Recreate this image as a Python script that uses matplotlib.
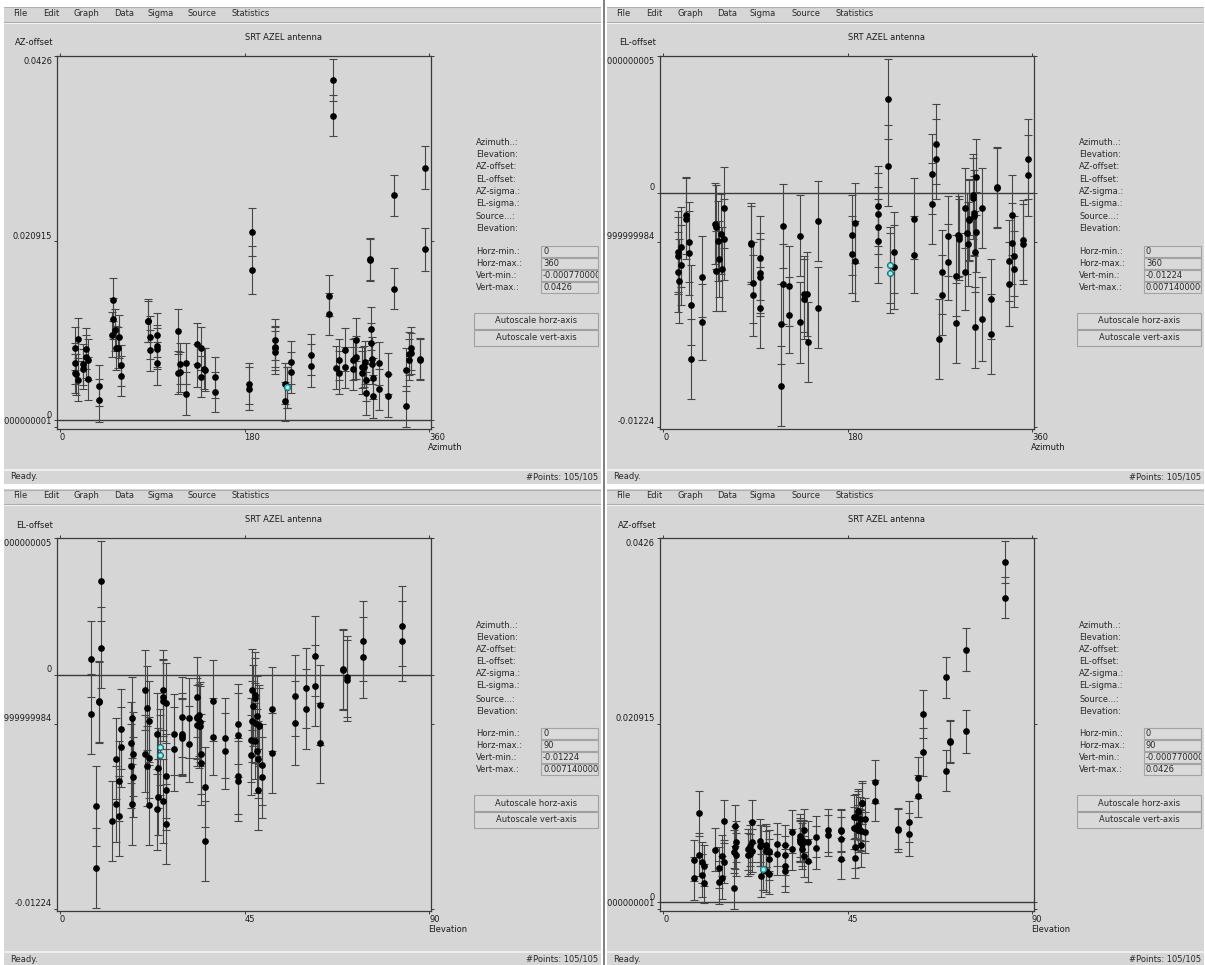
import matplotlib
matplotlib.use("Agg")
import matplotlib.pyplot as plt
import matplotlib.transforms as mtransforms
from matplotlib.patches import Rectangle
from matplotlib.lines import Line2D
import numpy as np

plt.rcParams['font.family'] = ['DejaVu Sans']
plt.rcParams['font.size'] = 6

# one entry per pointing scan (two scans per position most of the time)
azimuth = [
    14.8, 14.8, 15.1, 15.8, 17.2, 17.8, 22.9, 22.9, 25.4, 25.4, 27.3, 27.8,
    38.0, 38.0,
    50.3, 51.3, 51.3, 53.6, 54.4, 57.0, 57.5, 59.4, 59.4,
    85.8, 86.2, 88.2, 88.2, 94.8, 94.8, 94.8, 94.3,
    115.5, 115.5, 117.3, 117.3, 122.7, 122.7,
    133.2, 133.2, 137.8, 137.8, 140.8, 141.2, 151.5, 151.5,
    184.2, 184.2, 187.5, 187.5,
    209.5, 209.5, 209.8, 209.8, 219.2, 219.2, 221.0, 221.0, 225.6, 225.6, 245.2, 245.2,
    262.0, 262.0, 266.7, 266.7,
    268.8, 272.4, 272.4, 277.8, 277.8, 285.8, 285.8, 287.6, 289.0, 288.5,
    294.4, 294.4, 296.6, 297.6, 298.4, 298.4, 302.8, 302.8, 303.3, 303.6,
    304.6, 304.6, 305.4, 305.4, 311.0, 311.0, 319.9, 319.9, 325.4, 325.4,
    337.7, 337.7, 340.0, 340.0, 342.3, 342.3, 351.4, 351.4, 355.8, 355.8,
]
elevation = [
    29.8, 29.8, 34.3, 34.3, 14.9, 14.9, 25.0, 25.0, 43.5, 43.5, 35.4, 35.4,
    13.6, 13.6,
    47.0, 51.8, 51.8, 47.6, 47.6, 48.0, 48.0, 46.8, 46.8,
    48.6, 48.6, 49.2, 49.2, 46.5, 46.5, 48.2, 48.2,
    8.7, 8.7, 21.2, 21.2, 24.0, 24.0,
    17.6, 17.6, 43.3, 43.3, 25.8, 25.8, 25.9, 25.9,
    29.8, 29.8, 63.3, 63.3,
    57.3, 57.3, 59.9, 59.9, 9.9, 9.9, 24.5, 24.5, 27.9, 27.9, 37.4, 37.4,
    62.2, 62.2, 83.5, 83.5,
    12.6, 17.8, 17.8, 31.4, 31.4, 21.6, 21.6, 33.3, 33.3, 21.8,
    20.8, 20.8, 34.0, 34.0, 9.6, 9.6, 70.0, 70.0, 47.5, 47.5,
    23.6, 23.6, 7.5, 7.5, 25.0, 25.0, 14.4, 14.4, 69.0, 69.0,
    17.3, 17.3, 33.5, 33.5, 40.2, 40.2, 34.2, 34.2, 74.0, 74.0,
]
az_offset = [
    0.00669, 0.00552, 0.00844, 0.00537, 0.00949, 0.00475, 0.00654, 0.00603, 0.00836, 0.00747, 0.00712, 0.00486,
    0.00408, 0.00233,
    0.01004, 0.01412, 0.01186, 0.01058, 0.00844, 0.00848, 0.00980, 0.00642, 0.00521,
    0.01167, 0.01159, 0.00973, 0.00820, 0.01000, 0.00871, 0.00836, 0.00669,
    0.01040, 0.00560, 0.00661, 0.00564, 0.00669, 0.00311,
    0.00895, 0.00642, 0.00844, 0.00513, 0.00603, 0.00591, 0.00506, 0.00331,
    0.00428, 0.00370, 0.02198, 0.01762,
    0.00844, 0.00860, 0.00945, 0.00794, 0.00428, 0.00222, 0.00389, 0.00389, 0.00681, 0.00564, 0.00766, 0.00638,
    0.01459, 0.01245, 0.03980, 0.03559,
    0.00615, 0.00712, 0.00560, 0.00825, 0.00622, 0.00712, 0.00603, 0.00727, 0.00739, 0.00945,
    0.00622, 0.00560, 0.00630, 0.00681, 0.00467, 0.00319, 0.01887, 0.01875, 0.01070, 0.00902,
    0.00720, 0.00661, 0.00494, 0.00280, 0.00669, 0.00366, 0.00545, 0.00288, 0.02634, 0.01540,
    0.00591, 0.00167, 0.00708, 0.00778, 0.00786, 0.00844, 0.00720, 0.00712, 0.02953, 0.02000,
]
el_offset = [
    -0.00308, -0.00329, -0.00413, -0.00461, -0.00283, -0.00378, -0.00118, -0.00135, -0.00257, -0.00317, -0.00586, -0.00868,
    -0.00438, -0.00676,
    -0.00161, -0.00179, -0.00409, -0.00251, -0.00347, -0.00217, -0.00400, -0.00078, -0.00244,
    -0.00265, -0.00269, -0.00470, -0.00537, -0.00343, -0.00421, -0.00442, -0.00600,
    -0.00686, -0.01010, -0.00173, -0.00477, -0.00487, -0.00638,
    -0.00224, -0.00678, -0.00530, -0.00556, -0.00530, -0.00780, -0.00149, -0.00600,
    -0.00222, -0.00322, -0.00158, -0.00357,
    -0.00109, -0.00251, -0.00071, -0.00179, 0.00489, 0.00142, -0.00378, -0.00421, -0.00312, -0.00387, -0.00135, -0.00324,
    0.00099, -0.00057, 0.00255, 0.00177,
    -0.00764, -0.00413, -0.00534, -0.00227, -0.00362, -0.00433, -0.00681, -0.00222, -0.00225, -0.00244,
    -0.00080, -0.00413, -0.00213, -0.00269, -0.00140, -0.00145, -0.00010, -0.00030, -0.00104, -0.00121,
    -0.00308, -0.00704, 0.00081, -0.00204, -0.00080, -0.00660, -0.00556, -0.00737, 0.00030, 0.00023,
    -0.00355, -0.00478, -0.00118, -0.00265, -0.00331, -0.00399, -0.00248, -0.00269, 0.00177, 0.00090,
]
az_sigma = [
    0.0024, 0.0023, 0.0025, 0.0024, 0.0025, 0.0025, 0.0024, 0.0023, 0.0024, 0.0025, 0.0024, 0.0025,
    0.0024, 0.0025,
    0.0026, 0.0025, 0.0024, 0.0025, 0.0026, 0.0024, 0.0025, 0.0024, 0.0023,
    0.0025, 0.0024, 0.0025, 0.0024, 0.0026, 0.0025, 0.0024, 0.0025,
    0.0026, 0.0025, 0.0024, 0.0023, 0.0024, 0.0025,
    0.0024, 0.0025, 0.0025, 0.0024, 0.0024, 0.0025, 0.0024, 0.0023,
    0.0024, 0.0025, 0.0028, 0.0028,
    0.0025, 0.0024, 0.0024, 0.0025, 0.0024, 0.0023, 0.0024, 0.0024, 0.0025, 0.0024, 0.0024, 0.0025,
    0.0024, 0.0025, 0.0025, 0.0024,
    0.0025, 0.0024, 0.0025, 0.0025, 0.0024, 0.0024, 0.0025, 0.0024, 0.0025, 0.0025,
    0.0024, 0.0025, 0.0024, 0.0025, 0.0024, 0.0025, 0.0024, 0.0025, 0.0025, 0.0024,
    0.0025, 0.0024, 0.0024, 0.0025, 0.0025, 0.0024, 0.0024, 0.0025, 0.0024, 0.0024,
    0.0025, 0.0024, 0.0024, 0.0025, 0.0024, 0.0025, 0.0024, 0.0024, 0.0025, 0.0025,
]
el_sigma = [
    0.0021, 0.0020, 0.0021, 0.0022, 0.0021, 0.0021, 0.0020, 0.0021, 0.0021, 0.0022, 0.0021, 0.0021,
    0.0021, 0.0020,
    0.0021, 0.0022, 0.0021, 0.0021, 0.0020, 0.0021, 0.0022, 0.0021, 0.0021,
    0.0021, 0.0020, 0.0021, 0.0021, 0.0022, 0.0021, 0.0020, 0.0021,
    0.0021, 0.0021, 0.0022, 0.0021, 0.0021, 0.0020,
    0.0021, 0.0021, 0.0020, 0.0021, 0.0022, 0.0021, 0.0021, 0.0021,
    0.0021, 0.0020, 0.0021, 0.0021,
    0.0021, 0.0022, 0.0021, 0.0021, 0.0021, 0.0021, 0.0020, 0.0021, 0.0021, 0.0022, 0.0021, 0.0020,
    0.0021, 0.0021, 0.0021, 0.0021,
    0.0021, 0.0022, 0.0021, 0.0021, 0.0020, 0.0021, 0.0021, 0.0022, 0.0021, 0.0021,
    0.0021, 0.0020, 0.0021, 0.0022, 0.0021, 0.0021, 0.0021, 0.0021, 0.0022, 0.0021,
    0.0021, 0.0021, 0.0020, 0.0021, 0.0021, 0.0022, 0.0021, 0.0021, 0.0021, 0.0021,
    0.0021, 0.0022, 0.0021, 0.0021, 0.0021, 0.0020, 0.0021, 0.0021, 0.0021, 0.0021,
]
# scans picked in the viewer (drawn in cyan)
picked = [55, 56]

# axis ranges and the way the viewer prints them
az_off_range = (-0.00077, 0.0426)
el_off_range = (-0.01224, 0.00714)
az_off_labels = ["-0.00077000000000001", "0.020915", "0", "0.0426"]
el_off_labels = ["-0.01224", "-0.00254999999999984", "0", "0.00714000000000005"]

menu_items = ["File", "Edit", "Graph", "Data", "Sigma", "Source", "Statistics"]
menu_x = [13, 43, 74, 114, 147, 188, 232]
info_labels = ["Azimuth..:", "Elevation:", "AZ-offset:", "EL-offset:",
               "AZ-sigma.:", "EL-sigma.:", "Source...:", "Elevation:"]
info_y = [143, 155, 167, 180, 192, 204, 217, 229]
range_labels = ["Horz-min.:", "Horz-max.:", "Vert-min.:", "Vert-max.:"]
range_y = [252, 264, 276, 288]

az = np.array(azimuth)
el = np.array(elevation)
azo = np.array(az_offset)
elo = np.array(el_offset)
azs = np.array(az_sigma)
els = np.array(el_sigma)

W, H = 1205, 965
BG = '#d6d6d6'
INK = '#1c1c1c'

fig = plt.figure(figsize=(W / 100, H / 100), dpi=100, facecolor='white')


def rect(x, y, w, h):
    # pixel box (top-left origin) -> figure fraction
    return [x / W, 1 - (y + h) / H, w / W, h / H]


def window(ox, oy, xs, ys, yerr, hmax, vrange, xname, yname, ylabels):
    vmin, vmax = vrange
    n = len(xs)

    pax = fig.add_axes(rect(ox + 4, oy + 7, 597, 477))
    pax.set_xlim(4, 601)
    pax.set_ylim(484, 7)
    pax.axis('off')
    bg = Rectangle((4, 7), 597, 477, fc=BG, ec='none')
    pax.add_patch(bg)

    def txt(x, y, s, clip=bg, **kw):
        kw.setdefault('va', 'center')
        kw.setdefault('color', INK)
        t = pax.text(x, y, s, clip_on=True, **kw)
        t.set_clip_path(clip)
        return t

    # menu bar
    pax.plot([4, 601], [7.5, 7.5], color='#b0b0b0', lw=0.8)
    for x, s in zip(menu_x, menu_items):
        txt(x, 14, s, color='#2a2a2a')
    pax.plot([4, 601], [22, 22], color='#a8a8a8', lw=0.8)
    pax.plot([4, 601], [23, 23], color='#f2f2f2', lw=0.8)

    # status bar
    pax.plot([4, 601], [470, 470], color='#f4f4f4', lw=1.2)
    txt(10, 477, "Ready.", color='#2a2a2a')
    txt(598, 477, "#Points: %d/%d" % (n, n), ha='right', color='#2a2a2a')

    # title and axis names
    txt(245, 38, "SRT AZEL antenna")
    txt(53, 43, yname, ha='right')
    txt(428, 448, xname)

    # side panel
    for y, s in zip(info_y, info_labels):
        txt(476, y, s, color='#2a2a2a')
    vmin_txt = ylabels[0]
    vmax_txt = ylabels[3]
    entries = ["0", "%d" % hmax, vmin_txt, vmax_txt]
    for y, s, e in zip(range_y, range_labels, entries):
        txt(476, y, s, color='#2a2a2a')
        box = Rectangle((541, y - 6), 57, 11, fc='#dadada', ec='#a3a3a3', lw=0.8)
        pax.add_patch(box)
        txt(543, y, e, clip=box, color='#2a2a2a')
    for y, s in zip([313, 330], ["Autoscale horz-axis", "Autoscale vert-axis"]):
        pax.add_patch(Rectangle((474, y), 124, 16, fc='#d9d9d9', ec='#a0a0a0', lw=0.8))
        txt(536, y + 8, s, ha='center', color='#2a2a2a')

    # plot frame
    ax = fig.add_axes(rect(ox + 57, oy + 56, 374, 373))
    ax.set_facecolor('none')
    sx = 369.0 / hmax
    sy = 371.0 / (vmax - vmin)
    ax.set_xlim(-3 / sx, hmax + 2 / sx)
    ax.set_ylim(vmin - 2 / sy, vmax)
    ax.axhline(0, color='#3a3a3a', lw=1.0, zorder=1)
    ax.errorbar(xs, ys, yerr=yerr, fmt='o', ms=3.8, mfc='black', mec='black',
                ecolor='#464646', elinewidth=0.8, capsize=2.6, capthick=0.8, zorder=3)
    ax.plot(xs[picked], ys[picked], 'o', ms=3.6, mfc='#9ff0f0', mec='#25a8a8',
            mew=0.9, zorder=4)
    xticks = [0, hmax / 2, hmax]
    yticks = [vmin, (vmin + vmax) / 2, 0, vmax]
    ax.set_xticks(xticks)
    ax.set_yticks(yticks)
    ax.tick_params(direction='out', length=2.2, width=0.7, colors='#3a3a3a',
                   top=True, right=True, labelbottom=False, labelleft=False)
    for sp in ax.spines.values():
        sp.set_color('#3a3a3a')
        sp.set_linewidth(0.9)

    # tick labels in the viewer's own placement
    xt = mtransforms.blended_transform_factory(ax.transData, pax.transData)
    for v in xticks:
        t = pax.text(v, 438, "%d" % v, transform=xt, va='center', ha='left',
                     color=INK, clip_on=True)
        t.set_clip_path(bg)
    yt = mtransforms.blended_transform_factory(pax.transData, ax.transData)
    for v, s in zip(yticks, ylabels):
        dy = -6 if v == vmax else 5
        tr = mtransforms.offset_copy(yt, fig=fig, x=0, y=dy, units='dots')
        t = pax.text(52, v, s, transform=tr, va='center', ha='right',
                     color=INK, clip_on=True)
        t.set_clip_path(bg)


window(0, 0, az, azo, azs, 360, az_off_range, "Azimuth", "AZ-offset", az_off_labels)
window(603, 0, az, elo, els, 360, el_off_range, "Azimuth", "EL-offset", el_off_labels)
window(0, 482, el, elo, els, 90, el_off_range, "Elevation", "EL-offset", el_off_labels)
window(603, 482, el, azo, azs, 90, az_off_range, "Elevation", "AZ-offset", az_off_labels)

# divider between the left and right windows
fig.add_artist(Line2D([603.5 / W, 603.5 / W], [0, 1], transform=fig.transFigure,
                      color='#5c5c5c', lw=1.1))

fig.savefig("out.png", dpi=100, facecolor='white')
